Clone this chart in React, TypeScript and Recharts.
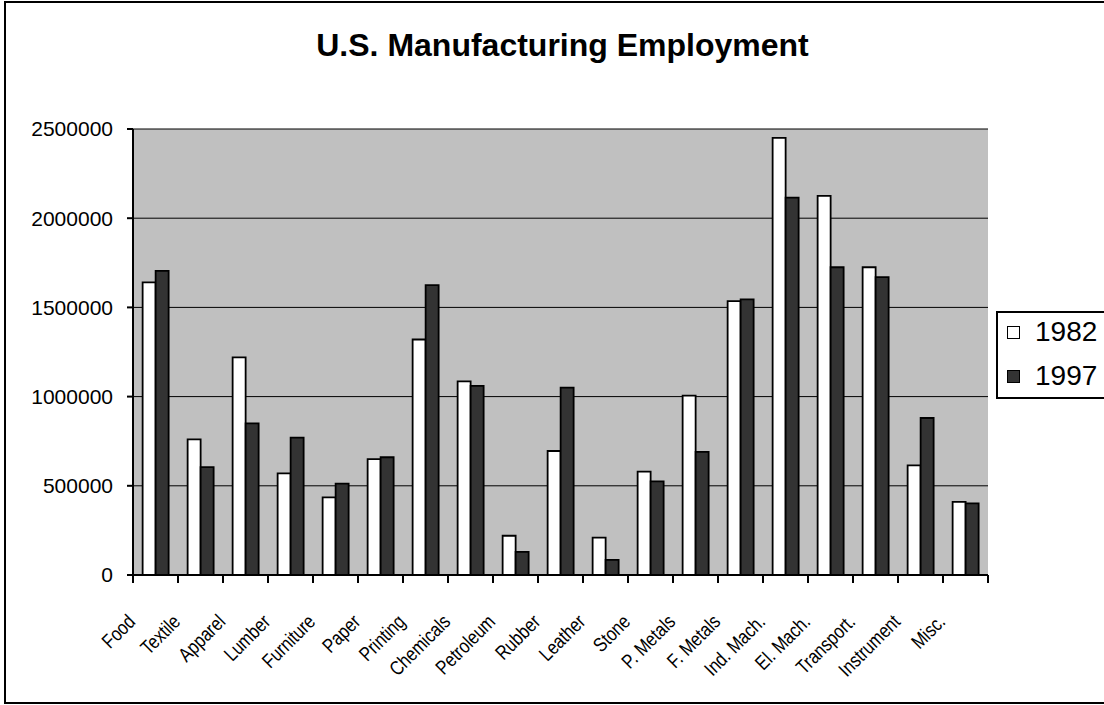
import React from 'react';
import { BarChart, Bar, XAxis, YAxis, CartesianGrid, Legend } from 'recharts';

const categories = ['Food', 'Textile', 'Apparel', 'Lumber', 'Furniture', 'Paper', 'Printing', 'Chemicals', 'Petroleum', 'Rubber', 'Leather', 'Stone', 'P. Metals', 'F. Metals', 'Ind. Mach.', 'El. Mach.', 'Transport.', 'Instrument', 'Misc.'];
const values1982 = [1640000, 760000, 1220000, 570000, 435000, 650000, 1320000, 1085000, 220000, 695000, 210000, 580000, 1005000, 1535000, 2450000, 2125000, 1725000, 615000, 410000];
const values1997 = [1705000, 605000, 850000, 770000, 512000, 660000, 1625000, 1060000, 130000, 1050000, 85000, 525000, 690000, 1545000, 2115000, 1725000, 1670000, 880000, 402000];
const yTicks = [0, 500000, 1000000, 1500000, 2000000, 2500000];
const seriesNames = ['1982', '1997'];
const title = 'U.S. Manufacturing Employment';

const data = categories.map((cat, i) => ({ cat, v1982: values1982[i], v1997: values1997[i] }));

const FONT = "'Liberation Sans', Arial, sans-serif";
const W = 1104;
const H = 705;
const PLOT_LEFT = 133;
const PLOT_RIGHT = 988;

const XTick = (props: any) => {
  const { x, y, payload } = props;
  const half = payload && typeof payload.offset === 'number' && payload.offset > 0
    ? payload.offset
    : (PLOT_RIGHT - PLOT_LEFT) / categories.length / 2;
  const isLast = payload.index === categories.length - 1;
  const ax = x - 19;
  const ay = y + 40;
  return (
    <g>
      <line x1={x - half} y1={y - 8} x2={x - half} y2={y} stroke="#000" strokeWidth={2} />
      {isLast && <line x1={x + half} y1={y - 8} x2={x + half} y2={y} stroke="#000" strokeWidth={2} />}
      <text x={0} y={0} textAnchor="end" fontSize={20} fontFamily={FONT} fill="#000" transform={`translate(${ax}, ${ay}) rotate(-45) scale(0.82, 1)`}>
        {payload.value}
      </text>
    </g>
  );
};

const LegendBox = (props: any) => {
  const payload = props.payload || [];
  return (
    <div style={{ width: 120, height: 88, border: '2px solid #000', background: '#fff', boxSizing: 'border-box', position: 'relative', fontFamily: FONT, fontSize: 28, color: '#000' }}>
      {payload.map((p: any, i: number) => (
        <div key={i} style={{ position: 'absolute', left: 9, top: 5 + i * 44, height: 28, lineHeight: '28px', display: 'flex', alignItems: 'center', whiteSpace: 'nowrap' }}>
          <span style={{ display: 'inline-block', width: 13, height: 13, boxSizing: 'border-box', border: '1.5px solid #000', background: p.color, marginRight: 15 }} />
          <span>{p.value}</span>
        </div>
      ))}
    </div>
  );
};

export default function App() {
  return (
    <div style={{ position: 'fixed', left: 0, top: 0, width: W, height: H, overflow: 'hidden', background: '#fff' }}>
      <BarChart
        width={W}
        height={H}
        data={data}
        margin={{ top: 129, right: W - PLOT_RIGHT, bottom: 10, left: 0 }}
        barCategoryGap="21.4%"
        barGap={0}
      >
        <CartesianGrid horizontal vertical={false} stroke="#000" strokeWidth={1} fill="#C0C0C0" fillOpacity={1} />
        <XAxis
          dataKey="cat"
          interval={0}
          height={120}
          tickSize={8}
          tickMargin={0}
          tickLine={false}
          axisLine={{ stroke: '#000', strokeWidth: 2 }}
          tick={<XTick />}
        />
        <XAxis xAxisId="top" orientation="top" dataKey="cat" height={0} tick={false} tickLine={false} axisLine={{ stroke: '#808080', strokeWidth: 2 }} />
        <YAxis
          width={PLOT_LEFT}
          domain={[0, 2500000]}
          ticks={yTicks}
          interval={0}
          tickSize={6}
          tickMargin={14}
          tickLine={{ stroke: '#000', strokeWidth: 2 }}
          axisLine={{ stroke: '#000', strokeWidth: 2 }}
          tick={{ fontSize: 21, fontFamily: FONT, fill: '#000' }}
        />
        <YAxis yAxisId="right" orientation="right" width={0} domain={[0, 2500000]} tick={false} tickLine={false} axisLine={{ stroke: '#808080', strokeWidth: 2 }} />
        <Legend
          layout="vertical"
          align="center"
          verticalAlign="middle"
          content={<LegendBox />}
          wrapperStyle={{ position: 'absolute', left: 996, top: 311, width: 'auto', height: 'auto' }}
        />
        <Bar dataKey="v1982" name={seriesNames[0]} fill="#FFFFFF" stroke="#000" strokeWidth={1.8} isAnimationActive={false} />
        <Bar dataKey="v1997" name={seriesNames[1]} fill="#333333" stroke="#000" strokeWidth={1.8} isAnimationActive={false} />
      </BarChart>
      <svg width={W} height={H} style={{ position: 'absolute', left: 0, top: 0, pointerEvents: 'none' }}>
        <rect x={5} y={2} width={1120} height={701} fill="none" stroke="#000" strokeWidth={2} />
        <text x={562.5} y={56} textAnchor="middle" fontSize={32} fontWeight="bold" fontFamily={FONT} fill="#000">{title}</text>
      </svg>
    </div>
  );
}
